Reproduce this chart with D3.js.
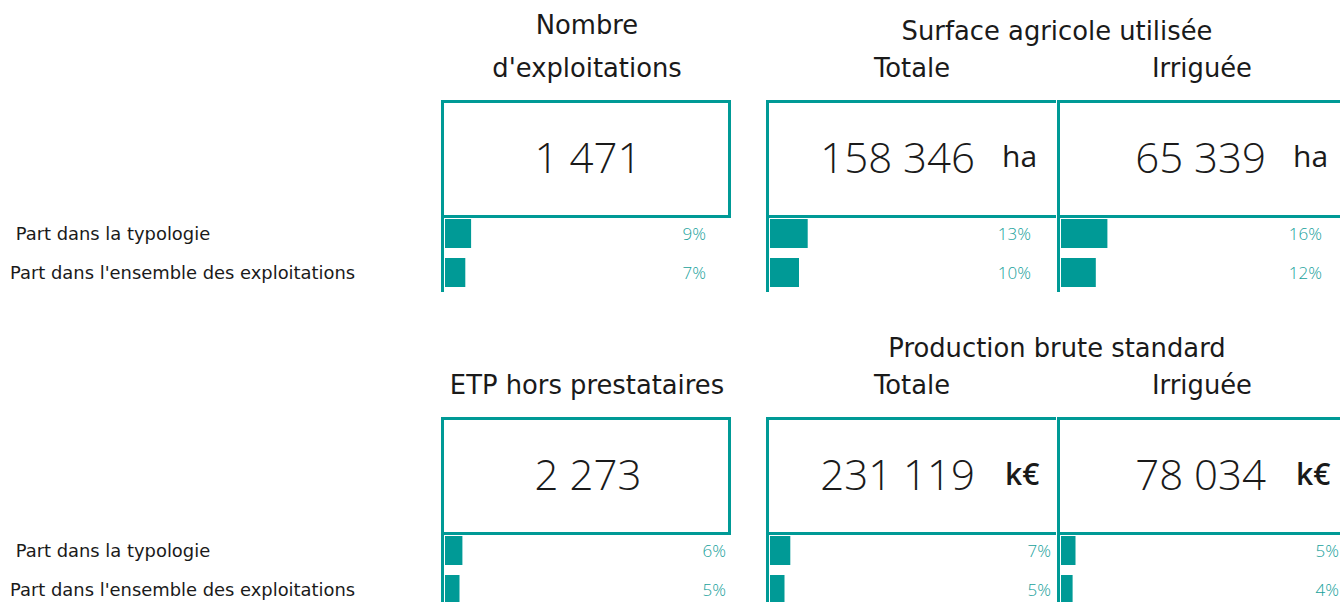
<!DOCTYPE html>
<html><head><meta charset="utf-8">
<script src="https://cdn.jsdelivr.net/npm/d3@7"></script>
<style>body{margin:0;background:#fff;} svg{display:block;font-family:"DejaVu Sans",sans-serif;}</style>
</head><body><svg id="c" width="1340" height="602"></svg>
<script>
// ---- data ----
const metrics = ["Nombre d'exploitations","SAU totale","SAU irriguée","ETP hors prestataires","PBS totale","PBS irriguée"];
const totals = [1471, 158346, 65339, 2273, 231119, 78034];
const units = ["", "ha", "ha", "", "k€", "k€"];
const partTypologie = [9, 13, 16, 6, 7, 5];
const partEnsemble = [7, 10, 12, 5, 5, 4];
const rowLabels = [" Part dans la typologie", "Part dans l'ensemble des exploitations"];
const singleTitles = [["Nombre", "d'exploitations"], ["ETP hors prestataires"]];
const groupTitles = ["Surface agricole utilisée", "Production brute standard"];
const subTitles = ["Totale", "Irriguée"];

// ---- layout ----
const svg = d3.select("#c");
const teal = "#009a96", pctColor = "#17a19b", ink = "#1a1a1a";
const colW = 290;
const colX = [441, 766, 1057];
const rowTop = [100, 417];
const W = 1340;
const x = d3.scaleLinear().domain([0, 100]).range([0, colW]);
const fr = d3.formatLocale({decimal: ",", thousands: "\u00a0", grouping: [3], currency: ["", " €"]});
const fmt = fr.format(",d");
const parts = [partTypologie, partEnsemble];
const titleSize = 25.8;

// headers
[0, 1].forEach(r => {
  const t = rowTop[r];
  const lines = singleTitles[r];
  const c0 = colX[0] + colW / 2;
  lines.forEach((ln, k) => {
    svg.append("text").attr("x", c0 + 1).attr("y", t - 23 - (lines.length - 1 - k) * 43)
      .attr("text-anchor", "middle").attr("font-size", titleSize).attr("fill", ink).text(ln);
  });
  svg.append("text").attr("x", colX[2]).attr("y", t - 60).attr("text-anchor", "middle")
    .attr("font-size", titleSize).attr("fill", ink).text(groupTitles[r]);
  subTitles.forEach((s, k) => {
    svg.append("text").attr("x", colX[k + 1] + colW / 2 + (k === 0 ? 1 : 0)).attr("y", t - 23).attr("text-anchor", "middle")
      .attr("font-size", titleSize).attr("fill", ink).text(s);
  });
  // row labels
  rowLabels.forEach((lab, k) => {
    svg.append("text").attr("x", 10).attr("y", t + 140 + k * 39).attr("font-size", 17.9)
      .attr("fill", ink).style("white-space", "pre").text(lab);
  });
});

// panels
metrics.forEach((m, i) => {
  const r = Math.floor(i / 3), c = i % 3;
  const x0 = colX[c], t = rowTop[r];
  const g = svg.append("g");
  // borders
  g.append("line").attr("x1", x0).attr("x2", x0 + colW).attr("y1", t + 1.5).attr("y2", t + 1.5)
    .attr("stroke", teal).attr("stroke-width", 3);
  g.append("line").attr("x1", x0).attr("x2", x0 + colW).attr("y1", t + 116.5).attr("y2", t + 116.5)
    .attr("stroke", teal).attr("stroke-width", 3);
  g.append("line").attr("x1", x0 + 1.5).attr("x2", x0 + 1.5).attr("y1", t).attr("y2", t + 192)
    .attr("stroke", teal).attr("stroke-width", 3);
  if (c === 0) {
    g.append("line").attr("x1", x0 + colW - 1.5).attr("x2", x0 + colW - 1.5).attr("y1", t).attr("y2", t + 118)
      .attr("stroke", teal).attr("stroke-width", 3);
  }
  // value
  if (units[i] === "") {
    g.append("text").attr("x", x0 + colW / 2 + 2).attr("y", t + 73).attr("text-anchor", "middle")
      .style("font-family", "'Open Sans', sans-serif")
      .attr("font-size", 42).attr("font-weight", 300).attr("fill", ink).text(fmt(totals[i]));
  } else {
    g.append("text").attr("x", x0 + 209).attr("y", t + 73).attr("text-anchor", "end")
      .style("font-family", "'Open Sans', sans-serif")
      .attr("font-size", 42).attr("font-weight", 300).attr("fill", ink).text(fmt(totals[i]));
    const bold = units[i] === "k€";
    g.append("text").attr("x", x0 + (bold ? 239 : 236)).attr("y", t + (bold ? 68 : 67))
      .style("font-family", "'Open Sans', sans-serif")
      .attr("font-size", 30).attr("font-weight", bold ? 600 : 400).attr("fill", ink).text(units[i]);
  }
  // bars
  parts.forEach((arr, k) => {
    const y0 = t + 119 + k * 39;
    g.append("rect").attr("x", x0 + 4).attr("y", y0).attr("width", x(arr[i])).attr("height", 29).attr("fill", teal);
    g.append("text").attr("x", Math.min(x0 + colW - (r === 0 ? 25 : 5), W - 1)).attr("y", t + 140 + k * 39)
      .attr("text-anchor", "end").style("font-family", "'Open Sans', sans-serif")
      .attr("font-size", 17).attr("font-weight", 300).attr("fill", pctColor)
      .text(arr[i] + "%");
  });
});
</script></body></html>
